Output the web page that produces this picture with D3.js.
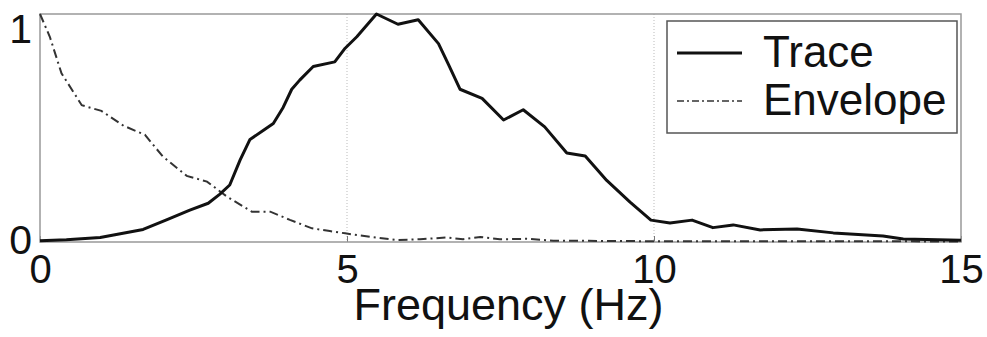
<!DOCTYPE html>
<html>
<head>
<meta charset="utf-8">
<script src="https://cdn.jsdelivr.net/npm/d3@7"></script>
<style>
  body { margin: 0; background: #fff; }
  text { font-family: "Liberation Sans", Arial, sans-serif; fill: #111; }
</style>
</head>
<body>
<div id="chart"></div>
<script>
// Data
const traceX = [0, 0.43, 0.98, 1.68, 2.06, 2.44, 2.74, 2.93, 3.09, 3.26, 3.42, 3.64, 3.8, 3.96, 4.1, 4.23,
    4.45, 4.8, 4.97, 5.16, 5.48, 5.83, 6.16, 6.49, 6.65, 6.84, 7.2, 7.55, 7.87, 8.22, 8.58, 8.88,
    9.23, 9.61, 9.95, 10.26, 10.62, 10.96, 11.29, 11.73, 12.33, 12.92, 13.73, 14.06, 15];
const traceY = [0.005, 0.01, 0.02, 0.055, 0.097, 0.14, 0.17, 0.21, 0.25, 0.36, 0.45, 0.49, 0.52, 0.59, 0.67, 0.71,
    0.77, 0.79, 0.85, 0.90, 1.0, 0.955, 0.975, 0.87, 0.78, 0.67, 0.63, 0.535, 0.58, 0.505, 0.39, 0.377,
    0.27, 0.175, 0.096, 0.083, 0.096, 0.063, 0.075, 0.053, 0.057, 0.04, 0.026, 0.013, 0.008];

const envX = [0, 0.16, 0.35, 0.68, 1.0, 1.36, 1.71, 2.0, 2.39, 2.72, 3.04, 3.45, 3.75, 4.07, 4.43, 4.72,
    4.97, 5.37, 5.81, 6.19, 6.63, 6.89, 7.17, 7.49, 7.93, 8.36, 9.5, 11, 12.5, 14, 15];
const envY = [1.0, 0.9, 0.74, 0.6, 0.575, 0.51, 0.47, 0.375, 0.29, 0.265, 0.2, 0.133, 0.133, 0.097, 0.06, 0.048,
    0.038, 0.023, 0.009, 0.012, 0.02, 0.012, 0.022, 0.012, 0.014, 0.006, 0.004, 0.003, 0.003, 0.003, 0.002];

const xTicks = [0, 5, 10, 15];
const yTicks = [0, 1];
const legendLabels = ["Trace", "Envelope"];

// Dimensions
const margin = { top: 14, right: 26, bottom: 95, left: 40 };
const width = 987 - margin.left - margin.right;
const height = 337 - margin.top - margin.bottom;

const svg = d3.select("#chart")
    .append("svg")
    .attr("width", 987)
    .attr("height", 337)
    .append("g")
    .attr("transform", `translate(${margin.left},${margin.top})`);

// Scales
const xScale = d3.scaleLinear().domain([0, 15]).range([0, width]);
const yScale = d3.scaleLinear().domain([0, 1]).range([height, 0]);

// Dotted vertical grid
svg.selectAll(".grid")
    .data([5, 10])
    .enter()
    .append("line")
    .attr("class", "grid")
    .attr("x1", d => xScale(d))
    .attr("x2", d => xScale(d))
    .attr("y1", 0)
    .attr("y2", height)
    .attr("stroke", "#bbb")
    .attr("stroke-width", 1)
    .attr("stroke-dasharray", "1,2");

// Axes
const xAxis = d3.axisBottom(xScale).tickValues(xTicks).tickSize(-6).tickPadding(12).tickFormat(d3.format("d"));
const yAxis = d3.axisLeft(yScale).tickValues(yTicks).tickSize(0).tickPadding(8).tickFormat(d3.format("d"));

const gx = svg.append("g")
    .attr("transform", `translate(0,${height})`)
    .call(xAxis);
gx.select(".domain").remove();
gx.selectAll("line").attr("stroke", "#777");
gx.selectAll("text").attr("font-size", 40).attr("fill", "#111").attr("dy", "0.72em");

const gy = svg.append("g").call(yAxis);
gy.select(".domain").remove();
gy.selectAll("text")
    .attr("font-size", 41)
    .attr("fill", "#111")
    .attr("dy", d => d === 1 ? "0.7em" : "0.27em");

// Frame
svg.append("rect")
    .attr("width", width)
    .attr("height", height)
    .attr("fill", "none")
    .attr("stroke", "#999")
    .attr("stroke-width", 1.5);

// Lines
const line = d3.line()
    .x(d => xScale(d[0]))
    .y(d => yScale(d[1]));

svg.append("path")
    .datum(envX.map((x, i) => [x, envY[i]]))
    .attr("fill", "none")
    .attr("stroke", "#333")
    .attr("stroke-width", 2)
    .attr("stroke-dasharray", "9,4,2,4")
    .attr("d", line);

svg.append("path")
    .datum(traceX.map((x, i) => [x, traceY[i]]))
    .attr("fill", "none")
    .attr("stroke", "#111")
    .attr("stroke-width", 3)
    .attr("stroke-linejoin", "round")
    .attr("d", line);

// X label
svg.append("text")
    .attr("x", xScale(7.5) + 8)
    .attr("y", height + 78)
    .attr("text-anchor", "middle")
    .attr("font-size", 45)
    .text("Frequency (Hz)");

// Legend
const legend = svg.append("g").attr("transform", `translate(${width - 294},7)`);
legend.append("rect")
    .attr("width", 290)
    .attr("height", 112)
    .attr("fill", "#fff")
    .attr("stroke", "#555")
    .attr("stroke-width", 1.5);

legendLabels.forEach((label, i) => {
    const y = 32 + i * 48;
    legend.append("line")
        .attr("x1", 10)
        .attr("x2", 75)
        .attr("y1", y)
        .attr("y2", y)
        .attr("stroke", i === 0 ? "#111" : "#333")
        .attr("stroke-width", i === 0 ? 3 : 1.5)
        .attr("stroke-dasharray", i === 0 ? null : "7,3,2,3");
    legend.append("text")
        .attr("x", 96)
        .attr("y", y + 14)
        .attr("font-size", 44)
        .text(label);
});
</script>
</body>
</html>
